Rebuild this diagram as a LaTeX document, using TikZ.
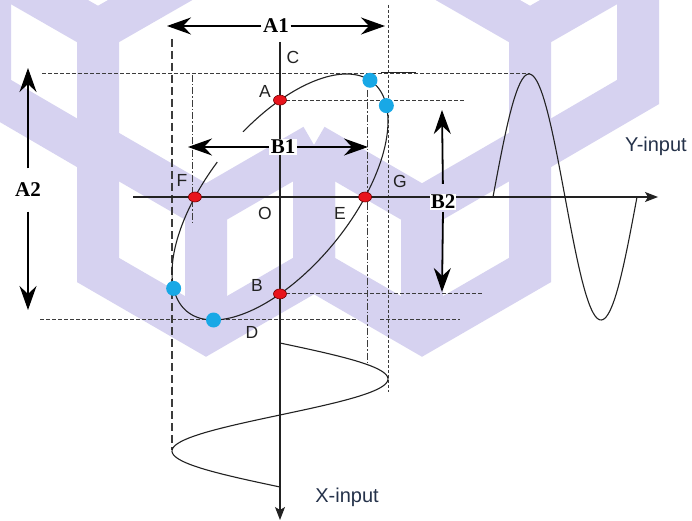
\documentclass[tikz,border=0pt]{standalone}
\usepackage{fontspec}
\setmainfont{Liberation Sans}
\newfontfamily\dimfont{Liberation Serif}
\usetikzlibrary{arrows.meta,shapes.geometric}
\definecolor{wm}{RGB}{214,210,240}
\definecolor{ink}{RGB}{34,34,34}
\definecolor{guide}{RGB}{60,60,60}
\definecolor{dotred}{RGB}{232,20,28}
\definecolor{dotblue}{RGB}{24,168,230}
\definecolor{inputblue}{RGB}{37,50,74}
\tikzset{
  wmband/.style={draw=wm, line width=42pt, line join=miter},
  curve/.style={draw=ink, line width=1.1pt},
  axisarrow/.style={draw=ink, line width=1.1pt, -{Stealth[length=13pt,width=10pt,inset=3pt]}},
  dimarrow/.style={draw=black, line width=1.8pt, -{Stealth[length=24pt,width=17pt,inset=8pt]}},
  hdash/.style={draw=guide, line width=0.9pt, dash pattern=on 4pt off 2pt},
  vlong/.style={draw=guide, line width=1.1pt, dash pattern=on 8pt off 4pt},
  vdot/.style={draw=guide, line width=1pt, dash pattern=on 3pt off 2pt},
  vdashdot/.style={draw=guide, line width=1pt, dash pattern=on 7pt off 2pt on 1.5pt off 2pt},
  lbl/.style={font=\fontsize{17.5}{18}\selectfont, text=ink, inner sep=0pt},
  inlbl/.style={font=\fontsize{20}{20}\selectfont, text=inputblue, inner sep=0pt},
  dimlbl/.style={font=\dimfont\bfseries\fontsize{21}{21}\selectfont, text=black, inner sep=1.5pt},
  reddot/.style={ellipse, minimum width=13pt, minimum height=10pt, inner sep=0pt, fill=dotred, draw=red!45!black, line width=0.6pt},
  bluedot/.style={circle, minimum size=15pt, inner sep=0pt, fill=dotblue}
}
\begin{document}
\begin{tikzpicture}[x=1pt,y=-1pt]
\fill[white] (0,0) rectangle (692,521);
\useasboundingbox (0,0) rectangle (692,521);

% watermark (isometric cube bands)
\begin{scope}
\clip (0,0) rectangle (692,521);
% upper cubes
\draw[wmband] (-10,-32) -- (98,30) -- (206,-32) (98,30) -- (98,155);
\draw[wmband] (-10,-60) -- (-10,92) -- (98,155);
\draw[wmband] (422,-32) -- (530,30) -- (638,-32) (530,30) -- (530,155);
\draw[wmband] (638,-60) -- (638,92) -- (530,155);
% lower cubes
\foreach \cx/\cy in {206/207.5, 422/207.5} {
  \draw[wmband] (\cx-108,\cy-62.5) -- (\cx-108,\cy+62.5) -- (\cx,\cy+125) -- (\cx+108,\cy+62.5) -- (\cx+108,\cy-62.5);
  \draw[wmband] (\cx-108,\cy-62.5) -- (\cx,\cy) -- (\cx+108,\cy-62.5) (\cx,\cy) -- (\cx,\cy+125);
}
\end{scope}

% points on the figure
\coordinate (A) at (280,100.1);
\coordinate (B) at (280,293.9);
\coordinate (E) at (365.1,197);
\coordinate (F) at (194.9,197);

% guide lines
\coordinate (v1t) at (172,39);  \coordinate (v1b) at (172,450);
\coordinate (v2t) at (388,5);   \coordinate (v2b) at (388,392);
\coordinate (v3t) at (192,75);  \coordinate (v3b) at (192,222);
\coordinate (v4t) at (367,90);  \coordinate (v4b) at (367,365);
\coordinate (h1l) at (42,73);   \coordinate (h1r) at (530,73);
\coordinate (h1s) at (381,73);  \coordinate (h1e) at (416,73);
\coordinate (h2r) at (465,100.1);
\coordinate (h3r) at (482,293.9);
\coordinate (h4l) at (40,319);  \coordinate (h4m) at (358,319);
\coordinate (h4n) at (380,319); \coordinate (h4r) at (460,319);

\draw[vlong] (v1t) -- (v1b);
\draw[vdot] (v2t) -- (v2b);
\draw[vdashdot] (v3t) -- (v3b);
\draw[vdashdot] (v4t) -- (v4b);
\draw[hdash] (h1l) -- (h1r);
\draw[ink, line width=1pt] (h1s) -- (h1e);
\draw[hdash] (A) -- (h2r);
\draw[hdash] (B) -- (h3r);
\draw[hdash] (h4l) -- (h4m);
\draw[hdash] (h4n) -- (h4r);

% axes
\coordinate (axT) at (280,42);  \coordinate (axB) at (280,520);
\coordinate (axL) at (133,197); \coordinate (axR) at (658,197);
\draw[axisarrow] (axT) -- (axB);

% Lissajous ellipse (gap where the B1 arrow crosses)
\draw[curve] plot[smooth, domain=-20:324.5, samples=160, variable=\t]
  ({280+108*sin(\t)},{197-123*sin(\t+52)});

% X-input and Y-input sine waves
\draw[curve] plot[smooth, domain=0:360, samples=90, variable=\t]
  ({280+108*sin(\t)},{343+0.4*\t});
\draw[curve] plot[smooth, domain=0:360, samples=90, variable=\t]
  ({493+0.4*\t},{197-123*sin(\t)});

% dimension labels and arrows
\node[dimlbl, fill=white] (a1) at (276,26) {A1};
\coordinate (a1l) at (167,26); \coordinate (a1r) at (385,26);
\draw[dimarrow] (a1.west) -- (a1l);
\draw[dimarrow] (a1.east) -- (a1r);

\node[dimlbl, fill=white] (b1) at (283,147) {B1};
\coordinate (b1l) at (188,147); \coordinate (b1r) at (368,147);
\draw[dimarrow] (b1.west) -- (b1l);
\draw[dimarrow] (b1.east) -- (b1r);

\node[dimlbl] (a2) at (28,190) {A2};
\coordinate (a2t) at (28,68); \coordinate (a2b) at (28,310);
\draw[dimarrow, shorten <=13pt] (a2.north) -- (a2t);
\draw[dimarrow, shorten <=13pt] (a2.south) -- (a2b);

\draw[axisarrow] (axL) -- (axR);
\node[dimlbl, fill=white, inner sep=1pt] (b2) at (443,202) {B2};
\coordinate (b2t) at (442,110); \coordinate (b2b) at (442,292);
\draw[dimarrow, shorten <=10pt] (b2.north) -- (b2t);
\draw[dimarrow, shorten <=2pt] (b2.south) -- (b2b);

% dots
\node[reddot] (dA) at (A) {};
\node[reddot] (dB) at (B) {};
\node[reddot] (dE) at (E) {};
\node[reddot] (dF) at (F) {};
\node[bluedot] (p1) at ({280+108*sin(56.4)},{197-123*sin(108.4)}) {};
\node[bluedot] (p2) at ({280+108*sin(80)},{197-123*sin(132)}) {};
\node[bluedot] (p3) at ({280+108*sin(260)},{197-123*sin(312)}) {};
\node[bluedot] (p4) at ({280+108*sin(218)},{197-123*sin(270)}) {};

% letters
\node[lbl] (lC) at (293,57) {C};
\node[lbl] (lA) at (265,91) {A};
\node[lbl] (lF) at (182,180) {F};
\node[lbl] (lG) at (400,181) {G};
\node[lbl] (lO) at (265,213) {O};
\node[lbl] (lE) at (340,213) {E};
\node[lbl] (lB) at (257,285) {B};
\node[lbl] (lD) at (252,332) {D};
\node[inlbl] (lY) at (656,146) {Y-input};
\node[inlbl] (lX) at (347,497) {X-input};
\end{tikzpicture}
\end{document}
